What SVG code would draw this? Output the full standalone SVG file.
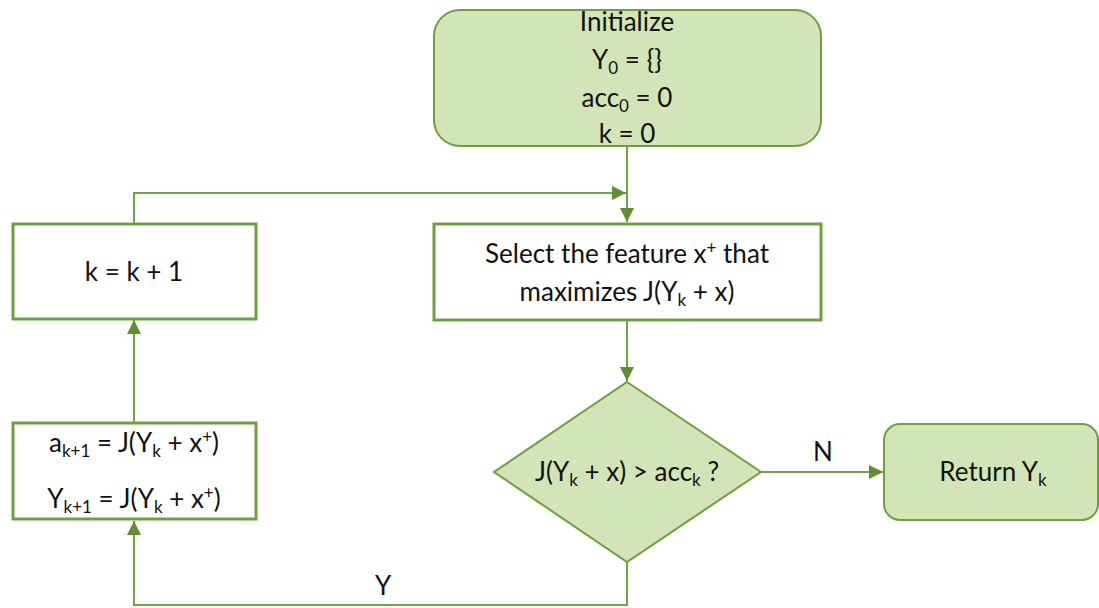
<svg xmlns="http://www.w3.org/2000/svg" width="1099" height="608" viewBox="0 0 1099 608">
<style>
.t{font-family:Lato,"Open Sans","Liberation Sans",sans-serif;font-size:26px;fill:#111;text-anchor:middle}
.s{font-size:17px}
.fill{fill:#d1e5b6;stroke:#6f9f3f;stroke-width:2}
.box{fill:#fff;stroke:#6f9f3f;stroke-width:3}
.c{fill:none;stroke:#72a443;stroke-width:2}
</style>
<defs>
<marker id="ah2" markerWidth="14" markerHeight="14" refX="14" refY="7" orient="auto" markerUnits="userSpaceOnUse" viewBox="0 0 14 14">
<path d="M0,0 L14,7 L0,14 Z" fill="#5f8f30"/>
</marker>
</defs>
<g id="connectors">
<path class="c" d="M627,147 V222" marker-end="url(#ah2)"/>
<path class="c" d="M134,223 V193 H626" marker-end="url(#ah2)"/>
<path class="c" d="M627,321 V381" marker-end="url(#ah2)"/>
<path class="c" d="M761,472 H883" marker-end="url(#ah2)"/>
<path class="c" d="M627,562 V605 H134 V521" marker-end="url(#ah2)"/>
<path class="c" d="M134,423 V320" marker-end="url(#ah2)"/>
<text class="t" x="823" y="461">N</text>
<text class="t" x="383" y="595">Y</text>
</g>
<g id="init">
<rect class="fill" x="434" y="10" width="387" height="136" rx="26"/>
<text class="t" x="627" y="31">Initialize</text>
<text class="t" x="627" y="69">Y<tspan class="s" dy="5">0</tspan><tspan dy="-5"> = {}</tspan></text>
<text class="t" x="627" y="107">acc<tspan class="s" dy="5">0</tspan><tspan dy="-5"> = 0</tspan></text>
<text class="t" x="627" y="143">k = 0</text>
</g>
<g id="select">
<rect class="box" x="434" y="224" width="387" height="96"/>
<text class="t" x="627" y="263">Select the feature x<tspan class="s" dy="-9">+</tspan><tspan dy="9"> that</tspan></text>
<text class="t" x="627" y="301">maximizes J(Y<tspan class="s" dy="5">k</tspan><tspan dy="-5"> + x)</tspan></text>
</g>
<g id="decision">
<polygon class="fill" points="627,382 761,472 627,562 494,472"/>
<text class="t" x="627" y="481">J(Y<tspan class="s" dy="5">k</tspan><tspan dy="-5"> + x) &gt; acc</tspan><tspan class="s" dy="5">k</tspan><tspan dy="-5"> ?</tspan></text>
</g>
<g id="return">
<rect class="fill" x="884" y="424" width="214" height="96" rx="16"/>
<text class="t" x="993" y="481">Return Y<tspan class="s" dy="5">k</tspan></text>
</g>
<g id="increment">
<rect class="box" x="13" y="224" width="243" height="95"/>
<text class="t" x="134" y="281">k = k + 1</text>
</g>
<g id="update">
<rect class="box" x="13" y="423" width="243" height="96"/>
<text class="t" x="134" y="452">a<tspan class="s" dy="5">k+1</tspan><tspan dy="-5"> = J(Y</tspan><tspan class="s" dy="5">k</tspan><tspan dy="-5"> + x</tspan><tspan class="s" dy="-9">+</tspan><tspan dy="9">)</tspan></text>
<text class="t" x="134" y="508">Y<tspan class="s" dy="5">k+1</tspan><tspan dy="-5"> = J(Y</tspan><tspan class="s" dy="5">k</tspan><tspan dy="-5"> + x</tspan><tspan class="s" dy="-9">+</tspan><tspan dy="9">)</tspan></text>
</g>
</svg>
